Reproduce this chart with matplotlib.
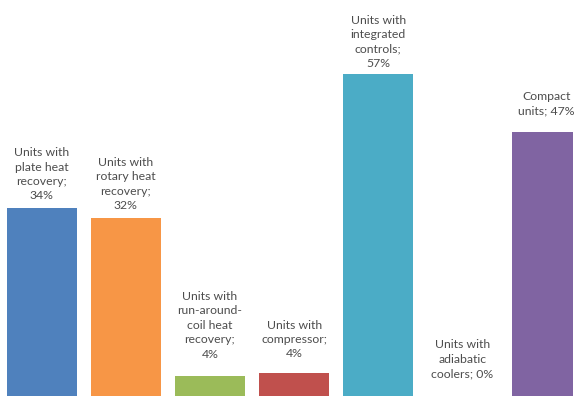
"""
Share of unit types, bar chart with text labels above each bar
"""
import matplotlib
matplotlib.use("Agg")
import matplotlib.pyplot as plt

# category names, wrapped like the original labels
CATEGORIES = [
    "Units with\nplate heat\nrecovery",
    "Units with\nrotary heat\nrecovery",
    "Units with\nrun-around-\ncoil heat\nrecovery",
    "Units with\ncompressor",
    "Units with\nintegrated\ncontrols",
    "Units with\nadiabatic\ncoolers",
    "Compact\nunits",
]
# percentages as printed on the labels
LABEL_PCT = [34, 32, 4, 4, 57, 0, 47]
# bar heights (percent)
BAR_HEIGHTS = [33.2, 31.5, 3.6, 4.0, 57.0, 0.0, 46.7]
# whether the percentage sits on the same line as the last word
PCT_SAME_LINE = [False, False, False, False, False, True, True]

COLORS = ["#4F81BD", "#F79646", "#9BBB59", "#C0504D", "#4BACC6", "#8064A2", "#8064A2"]
LABEL_GAP_PX = [7, 7, 16, 14, 5, 17, 16]


def main():
    fig = plt.figure(figsize=(5.76, 3.96), dpi=100)
    ax = fig.add_axes([0, 0, 573 / 576, 1])
    x = list(range(len(CATEGORIES)))
    ax.bar(x, BAR_HEIGHTS, width=0.832, color=COLORS, edgecolor="none")

    for i, (cat, pct, same) in enumerate(zip(CATEGORIES, LABEL_PCT, PCT_SAME_LINE)):
        sep = "; " if same else ";\n"
        text = "{}{}{}%".format(cat, sep, pct)
        ax.annotate(text, (x[i], BAR_HEIGHTS[i]),
                    xytext=(0, LABEL_GAP_PX[i] * 0.72), textcoords="offset points",
                    ha="center", va="bottom", fontsize=8.8, color="#4D4D4D",
                    family=["Lato", "DejaVu Sans"], linespacing=1.38)

    ax.set_xlim(-0.4955, 6.314)
    ax.set_ylim(0, 70.1)
    ax.axis("off")
    fig.savefig("out.png", dpi=100)
    plt.close(fig)


if __name__ == "__main__":
    main()
